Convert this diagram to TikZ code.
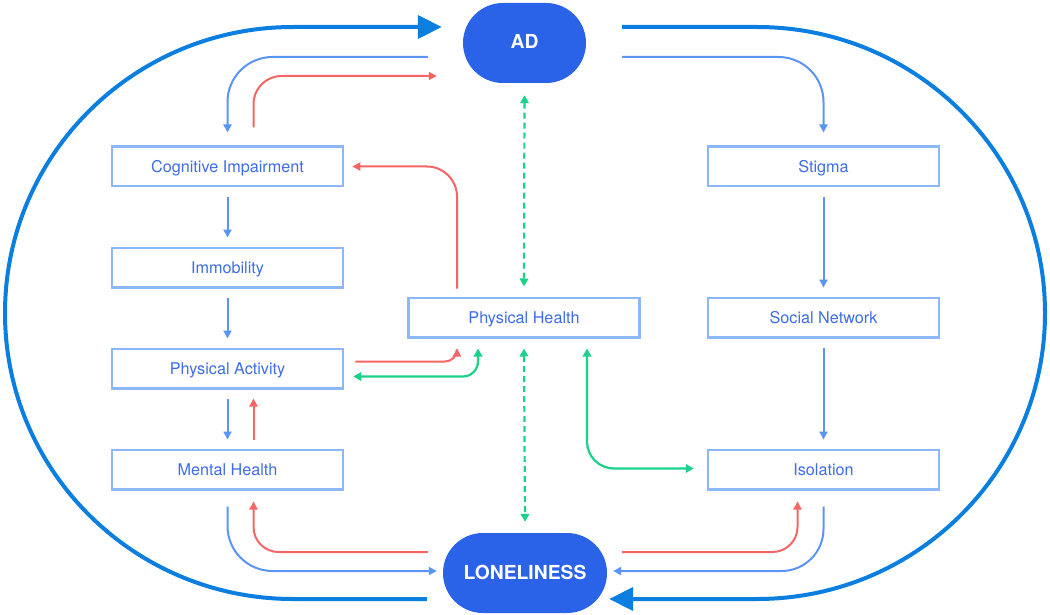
\documentclass[tikz,border=0pt]{standalone}
\usepackage{fontspec}
\setmainfont{TeX Gyre Heros}
\usetikzlibrary{arrows.meta}
\definecolor{boxblue}{HTML}{8CB8FA}
\definecolor{txtblue}{HTML}{3D6CE6}
\definecolor{pillc}{HTML}{2A62E8}
\definecolor{thickblue}{HTML}{0A7FE0}
\definecolor{thinblue}{HTML}{5A95F5}
\definecolor{redc}{HTML}{F56565}
\definecolor{greenc}{HTML}{1CD28A}
\begin{document}
\begin{tikzpicture}[x=1pt,y=-1pt,
  box/.style={draw=boxblue,line width=2.5pt,minimum width=231pt,minimum height=39.5pt,text=txtblue,font=\fontsize{16.2}{19}\selectfont,inner sep=0pt,text height=12.5pt,text depth=1pt},
  pillbox/.style={fill=pillc,draw=none,rounded corners=40pt,text=white,font=\fontsize{19.3}{22}\selectfont\bfseries,inner sep=0pt,text height=13pt,text depth=1pt},
  thinb/.style={draw=thinblue,line width=2pt,-{Triangle[length=8pt,width=8pt]}},
  redarr/.style={draw=redc,line width=2pt,-{Triangle[length=8pt,width=8pt]}},
  greenarr/.style={draw=greenc,line width=2.2pt,{Triangle[length=8pt,width=8.5pt]}-{Triangle[length=8pt,width=8.5pt]}},
  greendash/.style={greenarr,dash pattern=on 6pt off 4pt},
  bigloop/.style={draw=thickblue,line width=4pt},
  bigtip/.style={-{Triangle[length=24pt,width=23pt]}}
]
\useasboundingbox (0,0) rectangle (1050,615);

% nodes
\node[pillbox,minimum width=123pt,minimum height=80pt] (AD) at (524.5,43) {AD};
\node[pillbox,minimum width=164pt,minimum height=80pt] (LON) at (525,573) {LONELINESS};
\node[box] (cog) at (227.5,166.5) {Cognitive Impairment};
\node[box] (imm) at (227.5,267.5) {Immobility};
\node[box] (pa) at (227.5,368.5) {Physical Activity};
\node[box] (mh) at (227.5,469.5) {Mental Health};
\node[box] (ph) at (524,317.5) {Physical Health};
\node[box] (stig) at (823.5,166.5) {Stigma};
\node[box] (sn) at (823.5,317.5) {Social Network};
\node[box] (iso) at (823.5,469.5) {Isolation};

% big loop
\draw[bigloop,bigtip] ([shift={(-16,26)}]LON.west) -- (293,599)
  arc[start angle=270,end angle=90,x radius=288pt,y radius=286pt]
  -- ([shift={(-21,-16)}]AD.west);
\draw[bigloop,bigtip] ([shift={(36,-16)}]AD.east) -- (757,27)
  arc[start angle=90,end angle=-90,x radius=288pt,y radius=286pt]
  -- ([shift={(2,26)}]LON.east);

% top connectors
\draw[thinb,rounded corners=45pt] ([shift={(-35,14)}]AD.west) -| ([shift={(0,-13)}]cog.north);
\draw[redarr,rounded corners=28pt] ([shift={(26,-18)}]cog.north) |- ([shift={(-26,33)}]AD.west);
\draw[thinb,rounded corners=45pt] ([shift={(36,14)}]AD.east) -| ([shift={(0,-13)}]stig.north);

% left column
\draw[thinb] ([shift={(0,9)}]cog.south) -- ([shift={(0,-9)}]imm.north);
\draw[thinb] ([shift={(0,9)}]imm.south) -- ([shift={(0,-9)}]pa.north);
\draw[thinb] ([shift={(0,9)}]pa.south) -- ([shift={(0,-9)}]mh.north);
\draw[redarr] ([shift={(26,-9)}]mh.north) -- ([shift={(26,9)}]pa.south);

% right column
\draw[thinb] ([shift={(0,9)}]stig.south) -- ([shift={(0,-9)}]sn.north);
\draw[thinb] ([shift={(0,9)}]sn.south) -- ([shift={(0,-9)}]iso.north);

% physical health connectors
\draw[redarr,rounded corners=30pt] ([shift={(-67,-8)}]ph.north) |- ([shift={(8,0)}]cog.east);
\draw[redarr,rounded corners=12pt] ([shift={(11,-7)}]pa.east) -| ([shift={(-67,10)}]ph.south);
\draw[greenarr,rounded corners=15pt] ([shift={(-46,10)}]ph.south) |- ([shift={(9,8)}]pa.east);
\draw[greendash] ([shift={(0,12)}]AD.south) -- ([shift={(0,-10)}]ph.north);
\draw[greendash] ([shift={(0,10)}]ph.south) -- ([shift={(0,-11)}]LON.north);
\draw[greenarr,rounded corners=27pt] ([shift={(63,10)}]ph.south) |- ([shift={(-13,-1)}]iso.west);

% bottom connectors
\draw[thinb,rounded corners=45pt] ([shift={(0,16)}]mh.south) |- ([shift={(-6,-2)}]LON.west);
\draw[redarr,rounded corners=25pt] ([shift={(-15,-21)}]LON.west) -| ([shift={(26,11)}]mh.south);
\draw[thinb,rounded corners=42pt] ([shift={(0,16)}]iso.south) |- ([shift={(6,-2)}]LON.east);
\draw[redarr,rounded corners=25pt] ([shift={(15,-21)}]LON.east) -| ([shift={(-26,11)}]iso.south);
\end{tikzpicture}
\end{document}
